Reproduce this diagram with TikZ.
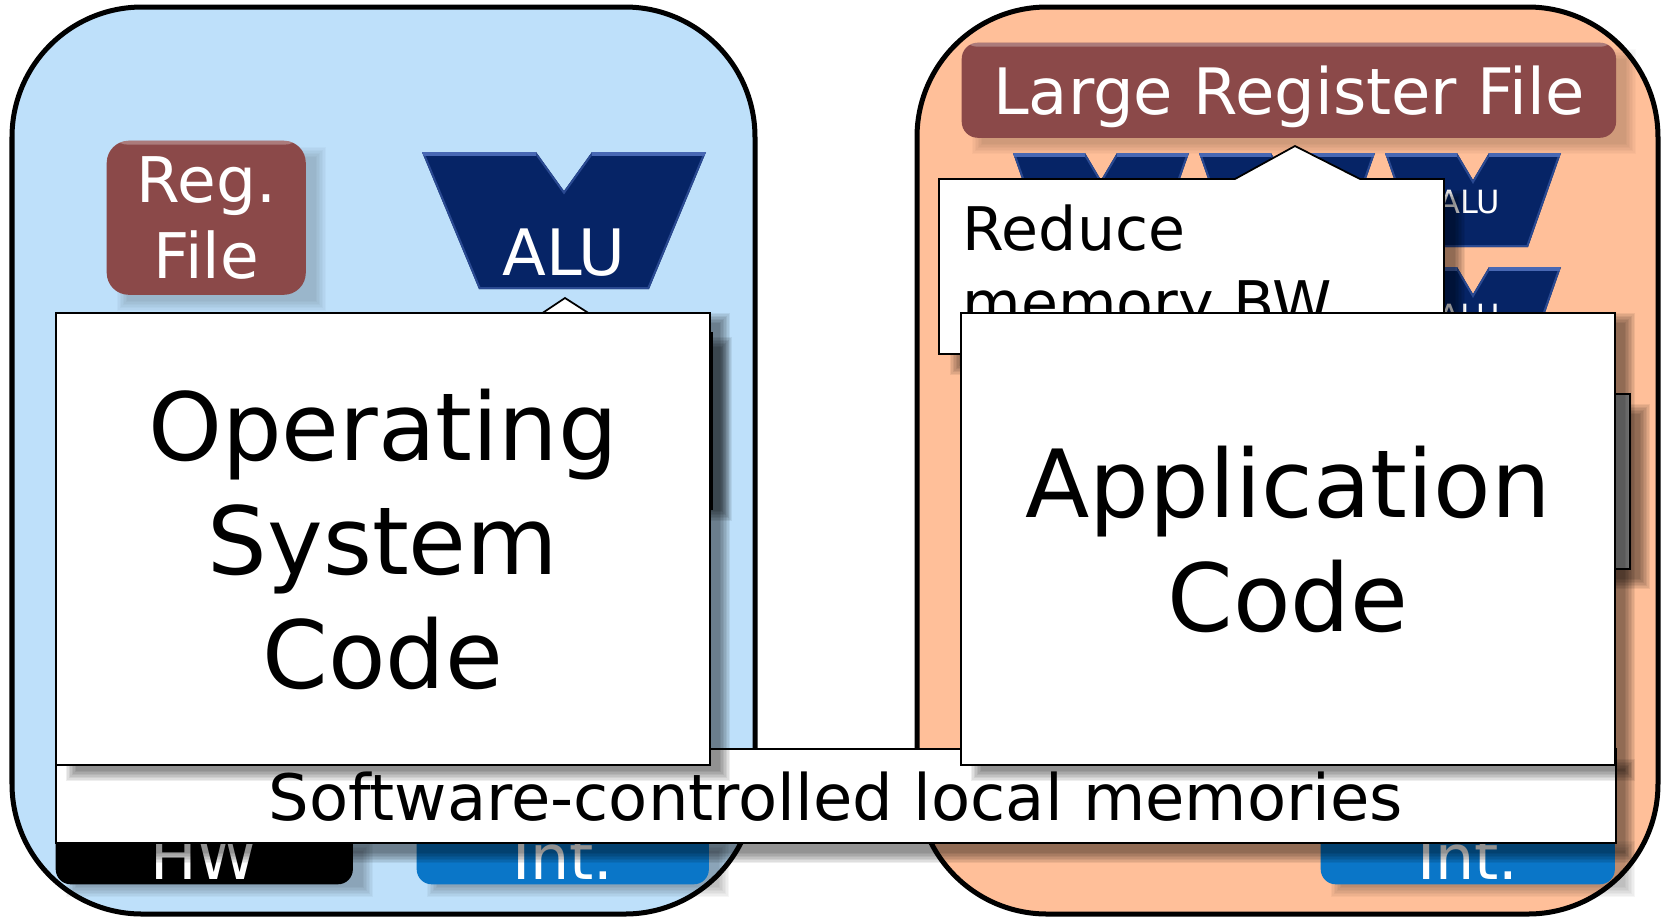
\documentclass[tikz,border=0pt]{standalone}
\usepackage{fontspec}
\setmainfont{DejaVu Sans}
\usetikzlibrary{calc}

\definecolor{panelblue}{RGB}{190,224,250}
\definecolor{panelpeach}{RGB}{255,191,153}
\definecolor{regred}{RGB}{139,73,73}
\definecolor{alunavy}{RGB}{6,36,102}
\definecolor{aluhi}{RGB}{72,104,180}
\definecolor{intblue}{RGB}{10,118,200}
\definecolor{barg}{RGB}{160,160,160}

% font size given in pt, with its baseline skip
\newcommand\pxfont[2]{\fontsize{#1}{#2}\selectfont}

% soft drop shadow of a rectangle (corner coordinates in px units)
\newcommand\dropshade[5][0.066]{%
  \foreach \k in {0,...,7}{%
    \pgfmathsetmacro\shd{5-1.45*\k}%
    \fill[black,opacity=#1] ({#2+16-\shd},{#3+16-\shd}) rectangle ({#4+16+\shd},{#5+16+\shd});
  }}

% ALU symbol: centre x, top y, half top width, half bottom width, height, notch half width, notch depth
\newcommand\aluglyph[7]{%
  \begin{scope}
    \fill[alunavy] ({#1-#3},#2) -- ({#1-#6},#2) -- (#1,{#2+#7}) -- ({#1+#6},#2) -- ({#1+#3},#2)
      -- ({#1+#4},{#2+#5}) -- ({#1-#4},{#2+#5}) -- cycle;
    \clip ({#1-#3},#2) -- ({#1-#6},#2) -- (#1,{#2+#7}) -- ({#1+#6},#2) -- ({#1+#3},#2)
      -- ({#1+#4},{#2+#5}) -- ({#1-#4},{#2+#5}) -- cycle;
    \draw[aluhi!55!alunavy,line width=0.04cm] ({#1-#3},#2) -- ({#1-#6},#2) -- (#1,{#2+#7}) -- ({#1+#6},#2) -- ({#1+#3},#2)
      -- ({#1+#4},{#2+#5}) -- ({#1-#4},{#2+#5}) -- cycle;
    \draw[aluhi,line width=0.08cm] ({#1-#3},#2) -- ({#1-#6},#2) (#1+#6,#2) -- ({#1+#3},#2);
  \end{scope}}

\begin{document}
\begin{tikzpicture}[x=0.01cm,y=-0.01cm,
  panel/.style={draw=black,line width=0.05cm,rounded corners=1.3cm},
  glossbox/.style={rounded corners=#1,inner sep=0pt,text=white,align=center,
    path picture={\fill[white,opacity=0.28] (path picture bounding box.north west)
      rectangle ([yshift=-0.04cm]path picture bounding box.north east);}},
  whitebox/.style={draw=black,line width=0.5pt,fill=white,inner sep=0pt},
  codebox/.style={whitebox,align=center,font=\pxfont{26.74}{32.43}},
  alusmall/.style={anchor=base,inner sep=0pt,text=white,font=\pxfont{9.1}{11}}]

\useasboundingbox (0,0) rectangle (1662,920);

% the two processor panels
\draw[panel,fill=panelblue] (12,7) rectangle (755,914);
\draw[panel,fill=panelpeach] (917,7) rectangle (1658,914);

% left core: register file and ALU
\dropshade[0.025]{106}{136}{305}{290}
\node[glossbox=0.22cm,fill=regred,minimum width=1.99cm,minimum height=1.54cm,
  anchor=north west,font=\pxfont{17.9}{21.6}] (regfile) at (106,140) {Reg.\\File};
\aluglyph{564}{152}{142}{85}{137}{28}{39}
\node[anchor=base,inner sep=0pt,text=white,font=\pxfont{18.2}{22}] (alu) at (564,275) {ALU};

% right core: large register file and ALU array
\dropshade[0.025]{961}{38}{1615}{133}
\node[glossbox=0.16cm,fill=regred,minimum width=6.54cm,minimum height=0.95cm,
  anchor=north west,font=\pxfont{18.2}{22},text depth=0pt] (bigrf) at (961,42) {Large Register File};
\foreach \cx in {1101,1287,1473}{
  \aluglyph{\cx}{153}{88}{55}{94}{16}{27}
  \aluglyph{\cx}{267}{88}{55}{94}{16}{27}
}
\node[alusmall] (aluA) at (1469,213) {ALU};
\node[alusmall] (aluB) at (1469,327) {ALU};

% hardware units at the bottom
\dropshade[0.035]{55}{830}{352}{876}
\node[glossbox=0.15cm,fill=black,minimum width=2.97cm,minimum height=0.55cm,
  anchor=south west,font=\pxfont{17.6}{21},text depth=0pt] (hw) at (55,885) {HW};
\dropshade[0.035]{416}{830}{708}{876}
\node[glossbox=0.15cm,fill=intblue,minimum width=2.92cm,minimum height=0.55cm,
  anchor=south west,font=\pxfont{17.6}{21},text depth=0pt] (intL) at (416,885) {Int.};
\dropshade[0.035]{1320}{830}{1614}{876}
\node[glossbox=0.15cm,fill=intblue,minimum width=2.94cm,minimum height=0.55cm,
  anchor=south west,font=\pxfont{17.6}{21},text depth=0pt] (intR) at (1320,885) {Int.};

% boxes stacked underneath the code boxes
\dropshade{90}{326}{711}{500}
\node[whitebox,minimum width=6.21cm,minimum height=1.76cm,anchor=north west] (osback) at (90,332) {};
\dropshade{1300}{393}{1629}{568}
\node[whitebox,fill=barg,minimum width=3.29cm,minimum height=1.75cm,anchor=north west] (appback) at (1300,393) {};
\draw[fill=white,line width=0.5pt] (541,314) -- (565,298) -- (590,314);

% callout pointing at the large register file
\dropshade{939}{179}{1444}{354}
\draw[fill=white,line width=0.5pt] (939,179) -- (1235,179) -- (1295,146) -- (1360,179)
  -- (1444,179) -- (1444,354) -- (939,354) -- cycle;
\node[anchor=north west,inner sep=0pt,align=left,font=\pxfont{17.1}{21.05}] (reduce) at (962,204.5) {Reduce\\memory BW};

% shared local memory strip
\dropshade{55}{748}{1614}{842}
\node[whitebox,minimum width=15.59cm,minimum height=0.94cm,anchor=north west,
  font=\pxfont{18.2}{22},text depth=0pt] (mem) at (55,748) {Software-controlled local memories};

% code boxes on top
\dropshade{55}{302}{709}{760}
\node[codebox,minimum width=6.54cm,minimum height=4.52cm,anchor=north west] (os) at (55,312) {Operating\\System\\Code};
\dropshade{960}{302}{1614}{760}
\node[codebox,minimum width=6.54cm,minimum height=4.52cm,anchor=north west] (app) at (960,312) {Application\\Code};

\end{tikzpicture}
\end{document}
